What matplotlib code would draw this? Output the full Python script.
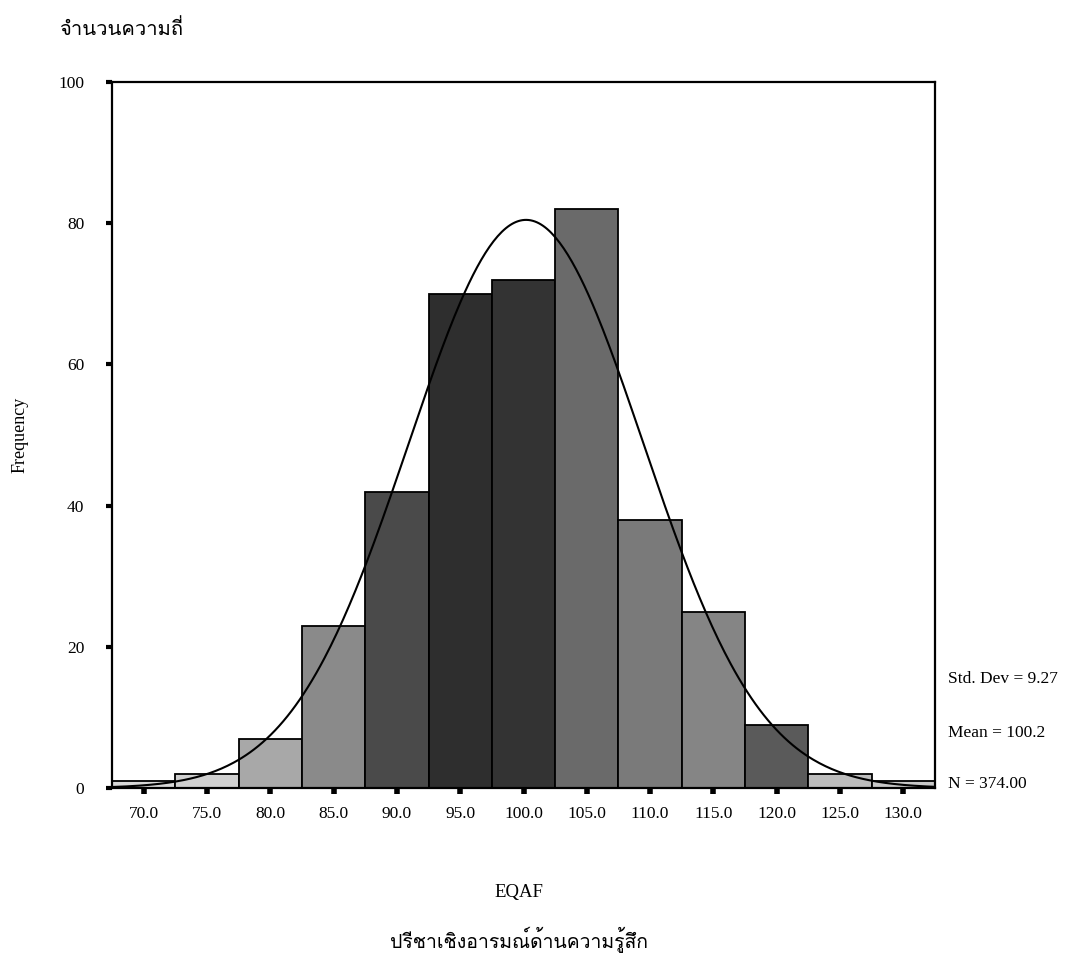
import numpy as np
import matplotlib
matplotlib.use('Agg')
import matplotlib.pyplot as plt
from matplotlib import font_manager
from matplotlib.ft2font import FT2Font

# histogram data (bin centres and counts)
bin_centers = [70, 75, 80, 85, 90, 95, 100, 105, 110, 115, 120, 125, 130]
counts = [1, 2, 7, 23, 42, 70, 72, 82, 38, 25, 9, 2, 1]
x_ticks = [70.0, 75.0, 80.0, 85.0, 90.0, 95.0, 100.0, 105.0, 110.0, 115.0, 120.0, 125.0, 130.0]
y_ticks = [0, 20, 40, 60, 80, 100]

std_dev = 9.27
mean = 100.2
n_total = 374.00
bin_width = 5

# scanned stipple looks darker in the middle bars
bar_shades = ['#d8d8d8', '#d0d0d0', '#a8a8a8', '#8a8a8a', '#4a4a4a', '#2e2e2e',
              '#333333', '#6a6a6a', '#7a7a7a', '#858585', '#5a5a5a', '#bdbdbd', '#c8c8c8']

# find a font that has Thai glyphs
thai_font = None
for f in font_manager.fontManager.ttflist:
    try:
        if ord('ก') in FT2Font(f.fname).get_charmap():
            thai_font = f.name
            break
    except Exception:
        pass
thai_family = [thai_font, 'DejaVu Sans'] if thai_font else ['DejaVu Sans']

plt.rcParams['font.family'] = ['Liberation Serif', 'DejaVu Serif']

fig = plt.figure(figsize=(10.72, 9.73), dpi=100)
ax = fig.add_axes([0.1045, 0.19, 0.7677, 0.7257])

ax.bar(bin_centers, counts, width=bin_width, color=bar_shades,
       edgecolor='black', linewidth=1.3, zorder=2)

# fitted normal curve from the reported statistics
xs = np.linspace(67.5, 132.5, 400)
ys = n_total * bin_width / (std_dev * np.sqrt(2 * np.pi)) * np.exp(-0.5 * ((xs - mean) / std_dev) ** 2)
ax.plot(xs, ys, color='black', linewidth=1.5, zorder=3)

ax.set_xlim(67.5, 132.5)
ax.set_ylim(0, 100)
ax.set_xticks(x_ticks)
ax.set_xticklabels(['%.1f' % t for t in x_ticks])
ax.set_yticks(y_ticks)
ax.tick_params(axis='x', direction='out', length=4, width=4, pad=9, labelsize=12.5)
ax.tick_params(axis='y', direction='out', length=4, width=3, pad=16, labelsize=12.5)
for s in ax.spines.values():
    s.set_linewidth(1.6)

fig.text(20 / 1072, 1 - 435 / 973, 'Frequency', fontsize=13, rotation=90, va='center', ha='center')
fig.text(519 / 1072, 1 - 893 / 973, 'EQAF', fontsize=13.5, va='center', ha='center')

fig.text(0.055, 0.97, 'จำนวนความถี่', family=thai_family, fontsize=14.5, va='center', ha='left')
fig.text(519 / 1072, 1 - 940 / 973, 'ปรีชาเชิงอารมณ์ด้านความรู้สึก', family=thai_family, fontsize=14,
         va='center', ha='center')

fig.text(0.884, 1 - 679 / 973, 'Std. Dev = %.2f' % std_dev, fontsize=12.5, va='center')
fig.text(0.884, 1 - 733 / 973, 'Mean = %.1f' % mean, fontsize=12.5, va='center')
fig.text(0.884, 1 - 784 / 973, 'N = %.2f' % n_total, fontsize=12.5, va='center')

fig.savefig('out.png', dpi=100, facecolor='white')
